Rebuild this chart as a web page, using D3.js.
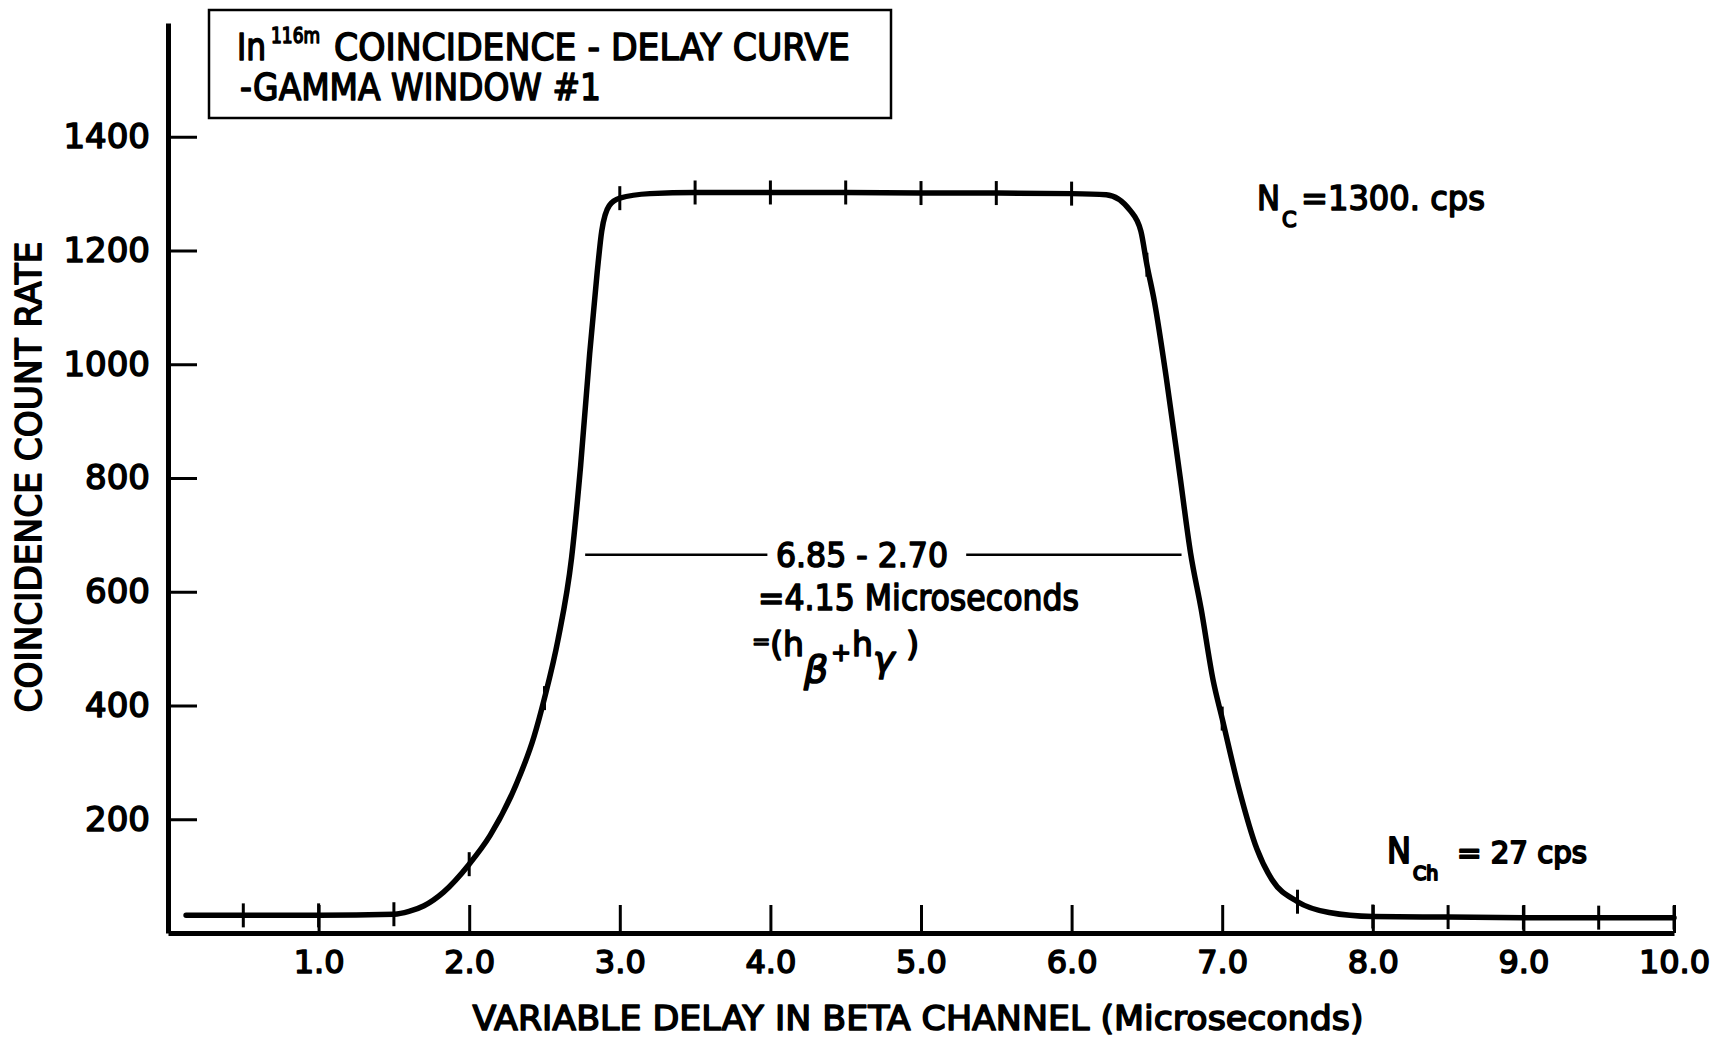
<!DOCTYPE html>
<html>
<head>
<meta charset="utf-8">
<script src="https://cdn.jsdelivr.net/npm/d3@7"></script>
<style>
  html, body { margin: 0; padding: 0; background: #fff; }
  svg { display: block; }
  .lettering { font-family: "DejaVu Sans", "Noto Sans", sans-serif; fill: #000; stroke: #000; stroke-width: 1.6px; stroke-linejoin: round; }
</style>
</head>
<body>
<svg id="chart" width="1717" height="1039"></svg>
<script>
// Coincidence count rate vs. variable delay (In-116m, gamma window #1)
const delays = [0.12, 0.5, 1.0, 1.5, 1.6, 1.7, 1.83, 2.0, 2.14, 2.31, 2.43,
                2.5, 2.59, 2.68, 2.74, 2.80, 2.85, 2.88, 2.93, 3.0, 3.2,
                3.5, 4.0, 4.5, 5.0, 5.5, 6.0, 6.23, 6.39, 6.46, 6.5,
                6.55, 6.63, 6.72, 6.79, 6.86, 6.94, 7.0, 7.11, 7.23, 7.33,
                7.5, 7.71, 8.0, 8.5, 9.0, 9.5, 10.0];
const rates  = [31, 31, 31, 33, 38, 48, 72, 121, 172, 260, 345,
                413, 516, 660, 822, 1019, 1162, 1234, 1279, 1292, 1300,
                1302, 1302, 1302, 1301, 1301, 1300, 1298, 1270, 1234, 1175,
                1110, 974, 803, 668, 570, 444, 377, 255, 148, 94,
                55, 36, 29, 28, 27, 27, 27];
// delays at which readings were taken (marked on the curve)
const measuredDelays = [0.5, 1.0, 1.5, 2.0, 2.5, 3.0, 3.5, 4.0, 4.5, 5.0,
                        5.5, 6.0, 6.5, 7.0, 7.5, 8.0, 8.5, 9.0, 9.5, 10.0];
const xTicks = [1, 2, 3, 4, 5, 6, 7, 8, 9, 10];
const yTicks = [200, 400, 600, 800, 1000, 1200, 1400];
// half-maximum width marker
const halfLevel = 665;
const halfFrom = 2.77, halfTo = 6.73;
const halfGapFrom = 3.98, halfGapTo = 5.3;

const svg = d3.select("#chart");
svg.append("rect").attr("width", 1717).attr("height", 1039).attr("fill", "#fff");

const x = d3.scaleLinear().domain([0, 10]).range([168, 1674]);
const y = d3.scaleLinear().domain([0, 1600]).range([933, 23]);

// x axis: ticks point up into the plot
const xAxis = svg.append("g")
  .attr("transform", `translate(0,${y(0)})`)
  .call(d3.axisBottom(x).tickValues(xTicks).tickFormat(d3.format(".1f"))
        .tickSizeInner(-28).tickSizeOuter(0).tickPadding(17));
// y axis: ticks point right into the plot
const yAxis = svg.append("g")
  .attr("transform", `translate(${x(0)},0)`)
  .call(d3.axisLeft(y).tickValues(yTicks).tickFormat(d3.format("d"))
        .tickSizeInner(-29).tickSizeOuter(0).tickPadding(18));

[xAxis, yAxis].forEach(g => {
  g.select(".domain").attr("stroke", "#000").attr("stroke-width", 5);
  g.selectAll(".tick line").attr("stroke", "#000").attr("stroke-width", 3);
  g.selectAll(".tick text").attr("class", "lettering").attr("font-family", null);
});
xAxis.selectAll(".tick text").attr("font-size", 32);
yAxis.selectAll(".tick text").attr("font-size", 34).attr("stroke-width", 2);

// axis titles
svg.append("text").attr("class", "lettering")
  .attr("x", 918).attr("y", 1030).attr("text-anchor", "middle")
  .attr("font-size", 34).attr("textLength", 891).attr("lengthAdjust", "spacingAndGlyphs")
  .text("VARIABLE DELAY IN BETA CHANNEL (Microseconds)");
svg.append("text").attr("class", "lettering")
  .attr("transform", "translate(41,477) rotate(-90)").attr("text-anchor", "middle")
  .attr("font-size", 36).attr("textLength", 471).attr("lengthAdjust", "spacingAndGlyphs")
  .text("COINCIDENCE COUNT RATE");

// the delay curve
const pts = delays.map((d, i) => [d, rates[i]]);
const line = d3.line().x(d => x(d[0])).y(d => y(d[1])).curve(d3.curveMonotoneX);
svg.append("path").datum(pts)
  .attr("d", line).attr("fill", "none").attr("stroke", "#000")
  .attr("stroke-width", 5.5).attr("stroke-linecap", "round").attr("stroke-linejoin", "round");

// reading marks on the curve
const rateAt = d => rates[delays.indexOf(d)];
svg.append("g").selectAll("line").data(measuredDelays).join("line")
  .attr("x1", d => x(d)).attr("x2", d => x(d))
  .attr("y1", d => y(rateAt(d)) - 12).attr("y2", d => y(rateAt(d)) + 12)
  .attr("stroke", "#000").attr("stroke-width", 3);

// half-maximum width line with its label
svg.append("line").attr("x1", x(halfFrom)).attr("x2", x(halfGapFrom))
  .attr("y1", y(halfLevel)).attr("y2", y(halfLevel)).attr("stroke", "#000").attr("stroke-width", 2.5);
svg.append("line").attr("x1", x(halfGapTo)).attr("x2", x(halfTo))
  .attr("y1", y(halfLevel)).attr("y2", y(halfLevel)).attr("stroke", "#000").attr("stroke-width", 2.5);
svg.append("text").attr("class", "lettering").attr("x", 776).attr("y", 567)
  .attr("font-size", 33).attr("textLength", 172).attr("lengthAdjust", "spacingAndGlyphs")
  .text("6.85 - 2.70");
svg.append("text").attr("class", "lettering").attr("x", 758).attr("y", 610)
  .attr("font-size", 35).attr("textLength", 321).attr("lengthAdjust", "spacingAndGlyphs")
  .text("=4.15 Microseconds");
const hb = svg.append("g").attr("class", "lettering");
hb.append("text").attr("x", 752).attr("y", 649).attr("font-size", 22).text("=");
hb.append("text").attr("x", 770).attr("y", 656).attr("font-size", 34).text("(");
hb.append("text").attr("x", 783).attr("y", 656).attr("font-size", 33).text("h");
hb.append("text").attr("x", 804).attr("y", 682).attr("font-size", 38).attr("font-style", "italic").text("β");
hb.append("text").attr("x", 831).attr("y", 661).attr("font-size", 24).text("+");
hb.append("text").attr("x", 852).attr("y", 656).attr("font-size", 33).text("h");
hb.append("text").attr("x", 873).attr("y", 672).attr("font-size", 36).attr("font-style", "italic").text("γ");
hb.append("text").attr("x", 906).attr("y", 656).attr("font-size", 34).text(")");

// count-rate notes
const nc = svg.append("g").attr("class", "lettering");
nc.append("text").attr("x", 1257).attr("y", 210).attr("font-size", 34)
  .attr("textLength", 23).attr("lengthAdjust", "spacingAndGlyphs").text("N");
nc.append("text").attr("x", 1282).attr("y", 227).attr("font-size", 21).text("C");
nc.append("text").attr("x", 1301).attr("y", 210).attr("font-size", 33)
  .attr("textLength", 184).attr("lengthAdjust", "spacingAndGlyphs").text("=1300. cps");

const nch = svg.append("g").attr("class", "lettering").attr("style", "stroke-width:2px");
nch.append("text").attr("x", 1387).attr("y", 863).attr("font-size", 36)
  .attr("textLength", 24).attr("lengthAdjust", "spacingAndGlyphs").text("N");
nch.append("text").attr("x", 1413).attr("y", 880).attr("font-size", 19).text("Ch");
nch.append("text").attr("x", 1457).attr("y", 863).attr("font-size", 30)
  .attr("textLength", 130).attr("lengthAdjust", "spacingAndGlyphs").text("= 27 cps");

// title box
svg.append("rect").attr("x", 209).attr("y", 10).attr("width", 682).attr("height", 108)
  .attr("fill", "none").attr("stroke", "#000").attr("stroke-width", 2.5);
const t = svg.append("g").attr("class", "lettering");
t.append("text").attr("x", 237).attr("y", 60).attr("font-size", 37)
  .attr("textLength", 29).attr("lengthAdjust", "spacingAndGlyphs").text("In");
t.append("text").attr("x", 271).attr("y", 43).attr("font-size", 21)
  .attr("textLength", 49).attr("lengthAdjust", "spacingAndGlyphs").text("116m");
t.append("text").attr("x", 334).attr("y", 60).attr("font-size", 37)
  .attr("textLength", 516).attr("lengthAdjust", "spacingAndGlyphs").text("COINCIDENCE - DELAY CURVE");
t.append("text").attr("x", 240).attr("y", 100).attr("font-size", 37)
  .attr("textLength", 361).attr("lengthAdjust", "spacingAndGlyphs").text("-GAMMA WINDOW #1");
</script>
</body>
</html>
